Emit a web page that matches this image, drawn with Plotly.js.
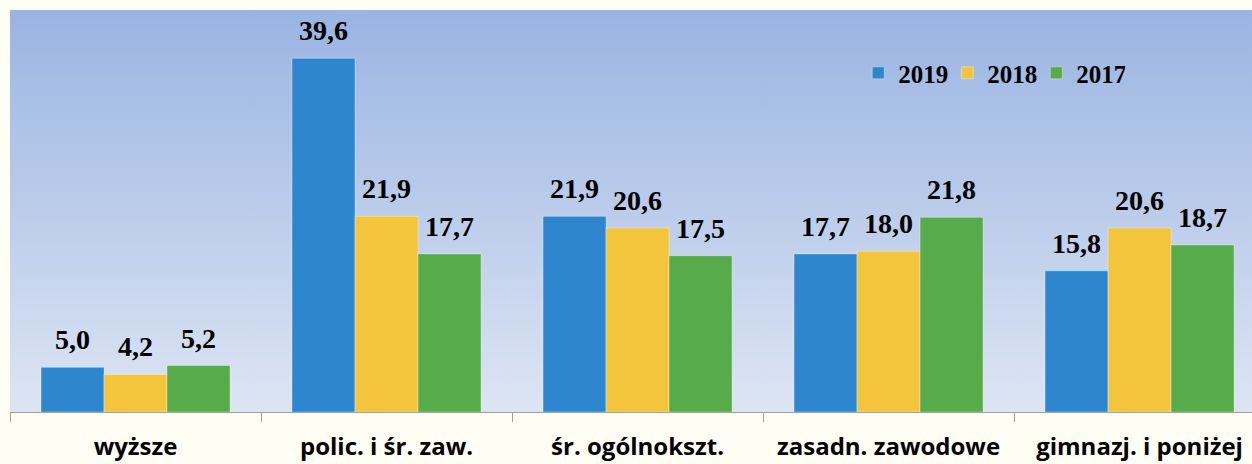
<!DOCTYPE html>
<html>
<head>
<meta charset="utf-8">
<script src="https://cdn.plot.ly/plotly-3.0.1.min.js"></script>
<style>
  html, body { margin: 0; padding: 0; background: #FFFEF5; }
  #chart { width: 1252px; height: 464px; }
</style>
</head>
<body>
<div id="chart"></div>
<script>
const categories = ["wyższe", "polic. i śr. zaw.", "śr. ogólnokszt.", "zasadn. zawodowe", "gimnazj. i poniżej"];
const seriesNames = ["2019", "2018", "2017"];
const values2019 = [5.0, 39.6, 21.9, 17.7, 15.8];
const values2018 = [4.2, 21.9, 20.6, 18.0, 20.6];
const values2017 = [5.2, 17.7, 17.5, 21.8, 18.7];
const seriesValues = [values2019, values2018, values2017];
const colors = ["#2E86CE", "#F2C53D", "#57AB4B"];

const BARGAP = 0.247;
const barW = (1 - BARGAP) / 3;

const traces = seriesValues.map((vals, j) => ({
  type: "bar",
  name: seriesNames[j],
  x: categories,
  y: vals,
  marker: { color: colors[j], line: { color: "rgba(255,255,255,0.35)", width: 1 } },
  hoverinfo: "skip"
}));

const annotations = [];
seriesValues.forEach((vals, j) => {
  vals.forEach((v, i) => {
    annotations.push({
      xref: "x", yref: "y",
      x: i + (j - 1) * barW,
      y: v,
      text: v.toFixed(1).replace(".", ","),
      showarrow: false,
      yanchor: "bottom",
      yshift: 10,
      font: { family: "Liberation Serif", size: 28, color: "#000", weight: "bold" }
    });
  });
});

const gradSvg = '<svg xmlns="http://www.w3.org/2000/svg" width="10" height="100" preserveAspectRatio="none">' +
  '<defs><linearGradient id="g" x1="0" y1="0" x2="0" y2="1">' +
  '<stop offset="0" stop-color="#9AB4E2"/><stop offset="1" stop-color="#DDE5F3"/>' +
  '</linearGradient></defs><rect width="10" height="100" fill="url(#g)"/></svg>';

const layout = {
  width: 1252, height: 464,
  margin: { l: 10, r: 0, t: 10, b: 52 },
  paper_bgcolor: "#FFFEF5",
  plot_bgcolor: "rgba(0,0,0,0)",
  barmode: "group",
  bargap: BARGAP,
  bargroupgap: 0,
  showlegend: true,
  legend: {
    orientation: "h",
    x: 0.683, y: 0.843, xanchor: "left", yanchor: "middle",
    bgcolor: "rgba(0,0,0,0)",
    entrywidth: 44,
    font: { family: "Liberation Serif", size: 25, color: "#000", weight: "bold" },
    traceorder: "normal"
  },
  xaxis: {
    type: "category",
    range: [-0.5, 4.448],
    tickson: "boundaries",
    ticks: "outside",
    ticklen: 9,
    tickcolor: "#A0A0A0",
    showline: true,
    linecolor: "#A0A0A0",
    linewidth: 1,
    showgrid: false,
    ticklabelstandoff: 13,
    tickfont: { family: "Open Sans", size: 24, color: "#000", weight: "bold" },
    fixedrange: true
  },
  yaxis: {
    range: [0, 45],
    visible: false,
    showgrid: false,
    zeroline: false,
    fixedrange: true
  },
  images: [{
    source: "data:image/svg+xml;charset=utf-8," + encodeURIComponent(gradSvg),
    xref: "paper", yref: "paper",
    x: 0, y: 1, sizex: 1, sizey: 1,
    xanchor: "left", yanchor: "top",
    sizing: "stretch",
    layer: "below"
  }],
  annotations: annotations
};

Plotly.newPlot("chart", traces, layout, { displayModeBar: false, staticPlot: true });
</script>
</body>
</html>
